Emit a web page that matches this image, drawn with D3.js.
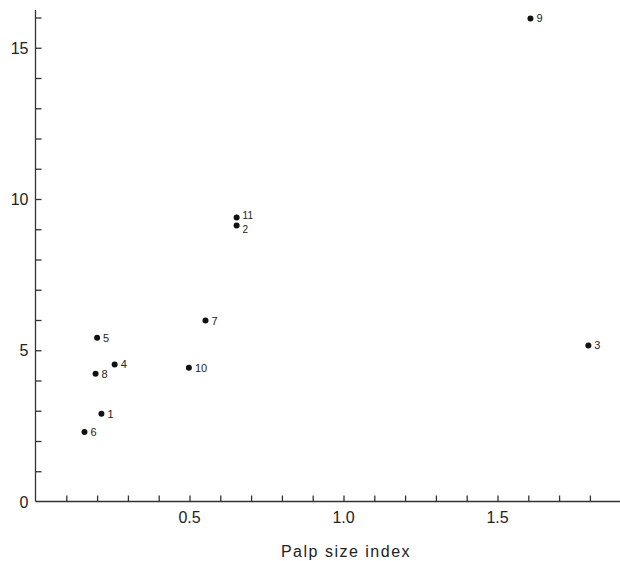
<!DOCTYPE html>
<html>
<head>
<meta charset="utf-8">
<script src="https://cdn.jsdelivr.net/npm/d3@7"></script>
<style>
  body { margin: 0; background: #fff; }
  svg { display: block; }
  text { font-family: "Liberation Sans", Arial, sans-serif; fill: #222; }
</style>
</head>
<body>
<svg id="chart" width="620" height="561"></svg>
<script>
// data
const ids = ["1", "2", "3", "4", "5", "6", "7", "8", "9", "10", "11"];
const palpIndex = [0.214, 0.653, 1.795, 0.257, 0.200, 0.159, 0.552, 0.195, 1.607, 0.498, 0.653];
const yValues = [2.90, 9.12, 5.16, 4.53, 5.41, 2.30, 5.98, 4.22, 15.97, 4.42, 9.39];
const xTickLabels = [0.5, 1.0, 1.5];
const yTickLabels = [0, 5, 10, 15];

const svg = d3.select("#chart");
const width = 620, height = 561;
const margin = { left: 35.5, bottom: 59.5, top: 10 };

const x = d3.scaleLinear().domain([0, 1.89]).range([margin.left, margin.left + 1.89 * 308]);
const y = d3.scaleLinear().domain([0, 16.25]).range([height - margin.bottom, height - margin.bottom - 16.25 * 30.25]);

const points = ids.map((id, i) => ({ id: id, x: palpIndex[i], y: yValues[i] }));

// x axis: ticks every 0.1 pointing up, labels at 0.5 steps
const xAxis = svg.append("g")
  .attr("transform", `translate(0,${y(0)})`)
  .call(d3.axisTop(x)
    .tickValues(d3.range(1, 19).map(d => d / 10))
    .tickSize(6)
    .tickFormat(""));
xAxis.select(".domain").attr("d", `M${x(0)},0H${width}`);
xAxis.selectAll("line, path").attr("stroke", "#333").attr("stroke-width", 1.3);

svg.append("g")
  .selectAll("text")
  .data(xTickLabels)
  .enter()
  .append("text")
  .attr("x", d => x(d))
  .attr("y", y(0) + 21)
  .attr("text-anchor", "middle")
  .style("font-size", "16px")
  .text(d => d.toFixed(1));

// y axis: ticks every 1 pointing right
const yAxis = svg.append("g")
  .attr("transform", `translate(${x(0)},0)`)
  .call(d3.axisRight(y)
    .tickValues(d3.range(1, 17))
    .tickSize(6)
    .tickFormat(""));
yAxis.select(".domain").attr("d", `M0,${y(0)}V${margin.top}`);
yAxis.selectAll("line, path").attr("stroke", "#333").attr("stroke-width", 1.3);

svg.append("g")
  .selectAll("text")
  .data(yTickLabels)
  .enter()
  .append("text")
  .attr("x", x(0) - 7)
  .attr("y", d => y(d) + 6)
  .attr("text-anchor", "end")
  .style("font-size", "16px")
  .text(d => d);

// axis title
svg.append("text")
  .attr("x", 346)
  .attr("y", 557)
  .attr("text-anchor", "middle")
  .style("font-size", "16px")
  .style("letter-spacing", "1.5px")
  .text("Palp size index");

// points
svg.append("g")
  .selectAll("circle")
  .data(points)
  .enter()
  .append("circle")
  .attr("cx", d => x(d.x))
  .attr("cy", d => y(d.y))
  .attr("r", 3)
  .attr("fill", "#111");

svg.append("g")
  .selectAll("text")
  .data(points)
  .enter()
  .append("text")
  .attr("x", d => x(d.x) + 6)
  .attr("y", d => {
    if (d.id === "11") return y(d.y) + 2;
    if (d.id === "2") return y(d.y) + 7;
    return y(d.y) + 4;
  })
  .style("font-size", d => (d.id === "11" || d.id === "2") ? "10px" : "11px")
  .text(d => d.id);
</script>
</body>
</html>
